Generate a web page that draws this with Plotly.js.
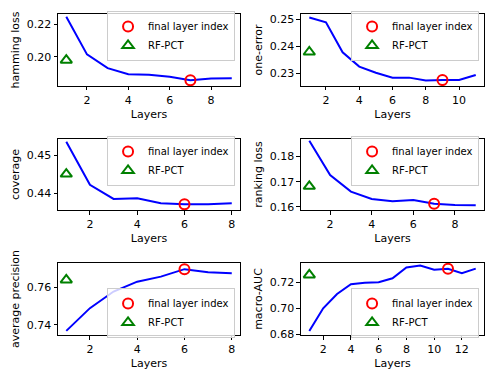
<!DOCTYPE html>
<html>
<head>
<meta charset="utf-8">
<script src="https://cdn.plot.ly/plotly-3.0.1.min.js"></script>
<style>
  body { margin: 0; background: #fff; }
  #chart { width: 498px; height: 381px; }
</style>
</head>
<body>
<div id="chart"></div>
<script>
// Values

// hamming loss
const hammingLayers = [1, 2, 3, 4, 5, 6, 7, 8, 9];
const hammingLoss = [0.2245, 0.2015, 0.1931, 0.1894, 0.1890, 0.1878, 0.1857, 0.1868, 0.1870];
const hammingFinal = [7, 0.1857];
const hammingRf = [1, 0.1980];

// one-error
const oneErrLayers = [1, 2, 3, 4, 5, 6, 7, 8, 9, 10, 11];
const oneErr = [0.2507, 0.2489, 0.2378, 0.2325, 0.2302, 0.2284, 0.2284, 0.2273, 0.2275, 0.2275, 0.2294];
const oneErrFinal = [9, 0.2275];
const oneErrRf = [1, 0.2379];

// coverage
const coverageLayers = [1, 2, 3, 4, 5, 6, 7, 8];
const coverage = [0.4535, 0.4422, 0.4385, 0.4387, 0.4374, 0.4371, 0.4371, 0.4374];
const coverageFinal = [6, 0.4371];
const coverageRf = [1, 0.4450];

// ranking loss
const rankLayers = [1, 2, 3, 4, 5, 6, 7, 8, 9];
const rankLoss = [0.1863, 0.1727, 0.1661, 0.1632, 0.1623, 0.1628, 0.1613, 0.1608, 0.1607];
const rankFinal = [7, 0.1613];
const rankRf = [1, 0.1682];

// average precision
const precLayers = [1, 2, 3, 4, 5, 6, 7, 8];
const avgPrec = [0.7368, 0.7490, 0.7579, 0.7632, 0.7659, 0.7699, 0.7683, 0.7677];
const precFinal = [6, 0.7699];
const precRf = [1, 0.7641];

// macro-AUC
const aucLayers = [1, 2, 3, 4, 5, 6, 7, 8, 9, 10, 11, 12, 13];
const macroAuc = [0.6825, 0.7000, 0.7110, 0.7185, 0.7197, 0.7200, 0.7231, 0.7313, 0.7328, 0.7297, 0.7303, 0.7270, 0.7305];
const aucFinal = [11, 0.7303];
const aucRf = [1, 0.7256];

const panels = [
    {x: hammingLayers, y: hammingLoss, fin: hammingFinal, rf: hammingRf, title: 'hamming loss',
     xr: [0.6, 9.4], yr: [0.1822, 0.2262], ydt: 0.02, xdt: 2},
    {x: oneErrLayers, y: oneErr, fin: oneErrFinal, rf: oneErrRf, title: 'one-error',
     xr: [0.5, 11.5], yr: [0.2253, 0.2520], ydt: 0.01, xdt: 2},
    {x: coverageLayers, y: coverage, fin: coverageFinal, rf: coverageRf, title: 'coverage',
     xr: [0.65, 8.35], yr: [0.4356, 0.4542], ydt: 0.01, xdt: 2},
    {x: rankLayers, y: rankLoss, fin: rankFinal, rf: rankRf, title: 'ranking loss',
     xr: [0.6, 9.4], yr: [0.1588, 0.1870], ydt: 0.01, xdt: 2},
    {x: precLayers, y: avgPrec, fin: precFinal, rf: precRf, title: 'average precision',
     xr: [0.65, 8.35], yr: [0.7346, 0.7732], ydt: 0.02, xdt: 2},
    {x: aucLayers, y: macroAuc, fin: aucFinal, rf: aucRf, title: 'macro-AUC',
     xr: [0.4, 13.6], yr: [0.6795, 0.7348], ydt: 0.02, xdt: 2}
];

// axis box positions (paper fractions)
const colDomains = [[0.1165, 0.482], [0.6044, 0.972]];
const rowDomains = [[0.7743, 0.9633], [0.4488, 0.6352], [0.1207, 0.3097]];
// legend vertical centres, in pixels from the top
const legendCentres = [36, 36, 161, 161, 313, 313];

const font = {family: 'DejaVu Sans, sans-serif', size: 11, color: '#000'};
const traces = [];
const layout = {
    width: 498,
    height: 381,
    autosize: false,
    margin: {l: 0, r: 0, t: 0, b: 0},
    paper_bgcolor: '#fff',
    plot_bgcolor: '#fff',
    font: font
};

panels.forEach(function(p, i) {
    const n = i === 0 ? '' : String(i + 1);
    const xa = 'x' + n, ya = 'y' + n;
    const leg = 'legend' + n;
    const col = i % 2, row = Math.floor(i / 2);

    traces.push({
        x: p.x, y: p.y, xaxis: xa, yaxis: ya,
        type: 'scatter', mode: 'lines',
        line: {color: '#0000ff', width: 2},
        showlegend: false, hoverinfo: 'skip'
    });
    traces.push({
        x: [p.fin[0]], y: [p.fin[1]], xaxis: xa, yaxis: ya,
        type: 'scatter', mode: 'markers', name: 'final layer index',
        marker: {symbol: 'circle-open', size: 10, color: '#ff0000', line: {width: 2, color: '#ff0000'}},
        legend: leg
    });
    traces.push({
        x: [p.rf[0]], y: [p.rf[1]], xaxis: xa, yaxis: ya,
        type: 'scatter', mode: 'markers', name: 'RF-PCT',
        marker: {symbol: 'triangle-up-open', size: 10, color: '#008000', line: {width: 2, color: '#008000'}},
        legend: leg
    });

    const axisBase = {
        showgrid: false, zeroline: false,
        showline: true, linecolor: '#000', linewidth: 1, mirror: true,
        ticks: 'outside', ticklen: 3.5, tickwidth: 1, tickcolor: '#000',
        tickfont: font
    };
    layout['xaxis' + n] = Object.assign({}, axisBase, {
        domain: colDomains[col], anchor: ya, range: p.xr,
        dtick: p.xdt, tick0: 0,
        title: {text: 'Layers', font: font, standoff: 4}
    });
    layout['yaxis' + n] = Object.assign({}, axisBase, {
        domain: rowDomains[row], anchor: xa, range: p.yr,
        dtick: p.ydt, tick0: 0, tickformat: '.2f',
        title: {text: p.title, font: font, standoff: 4}
    });

    layout[leg] = {
        x: colDomains[col][1] - 0.01,
        xanchor: 'right',
        y: 1 - legendCentres[i] / 381,
        yanchor: 'middle',
        bgcolor: 'rgba(255,255,255,0.8)',
        bordercolor: '#cccccc',
        borderwidth: 1,
        font: {family: 'DejaVu Sans, sans-serif', size: 10, color: '#000'},
        itemwidth: 30,
        tracegroupgap: 0
    };
});

Plotly.newPlot('chart', traces, layout, {staticPlot: true, displayModeBar: false});
</script>
</body>
</html>
